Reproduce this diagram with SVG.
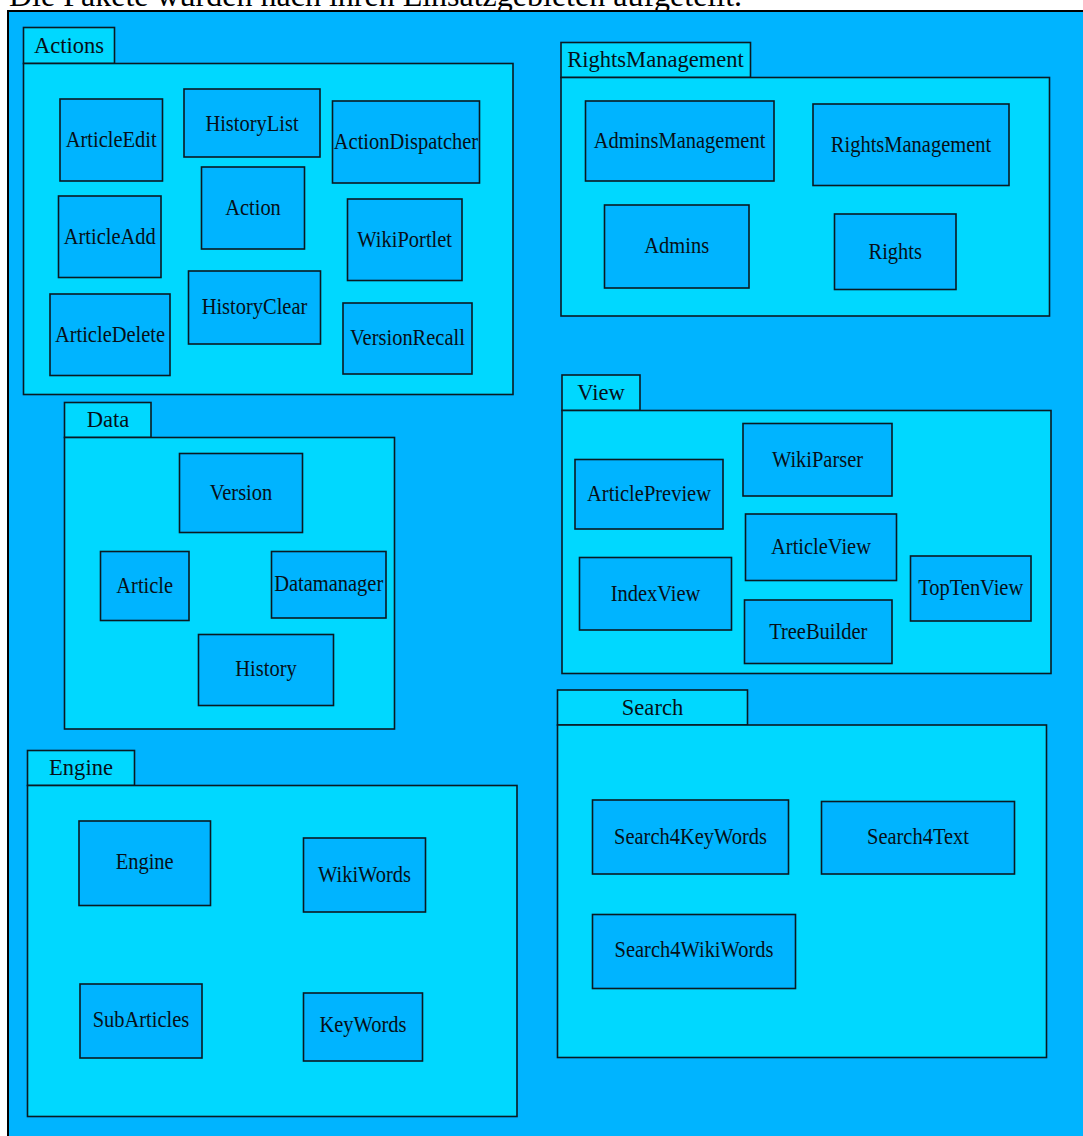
<svg xmlns="http://www.w3.org/2000/svg" width="1083" height="1136" viewBox="0 0 1083 1136">
  <style>
    .frame { fill: #00B4FF; stroke: #000; stroke-width: 2; }
    .pkg { fill: #00D8FF; stroke: #0a1a22; stroke-width: 1.6; }
    .cls { fill: #00B4FF; stroke: #0a1a22; stroke-width: 1.6; }
    .title { font-family: "Liberation Serif", "Times New Roman", serif; font-size: 32px; fill: #000; }
    .tab { font-family: "Liberation Serif", "Times New Roman", serif; font-size: 24px; fill: #061018; text-anchor: middle; }
    .lbl { font-family: "Liberation Serif", "Times New Roman", serif; font-size: 23px; fill: #061018; text-anchor: middle; }
  </style>

  <rect width="1083" height="1136" fill="#ffffff"/>
  <text class="title" x="9" y="6">Die Pakete wurden nach ihren Einsatzgebieten aufgeteilt.</text>

  <!-- drawing area -->
  <rect class="frame" x="8" y="11" width="1090" height="1140"/>

  <!-- package: Actions -->
  <g id="pkg-actions">
    <rect class="pkg" x="23.5" y="27.5" width="91" height="36"/>
    <rect class="pkg" x="23.5" y="63.5" width="489.5" height="331"/>
    <text class="tab" transform="translate(69,52.5) scale(0.94,1)">Actions</text>
  </g>
  <g id="ArticleEdit"><rect class="cls" x="60" y="99" width="102.5" height="82"/><text class="lbl" transform="translate(111.2,146.5) scale(0.89,1)">ArticleEdit</text></g>
  <g id="HistoryList"><rect class="cls" x="184" y="89" width="136" height="68"/><text class="lbl" transform="translate(252,130.5) scale(0.89,1)">HistoryList</text></g>
  <g id="ActionDispatcher"><rect class="cls" x="332.5" y="101" width="147" height="82"/><text class="lbl" transform="translate(406,148.5) scale(0.89,1)">ActionDispatcher</text></g>
  <g id="Action"><rect class="cls" x="201.5" y="167" width="103" height="82"/><text class="lbl" transform="translate(253,214.5) scale(0.89,1)">Action</text></g>
  <g id="ArticleAdd"><rect class="cls" x="58.5" y="196" width="102.5" height="81.5"/><text class="lbl" transform="translate(109.7,243.5) scale(0.89,1)">ArticleAdd</text></g>
  <g id="WikiPortlet"><rect class="cls" x="347.5" y="199" width="114.5" height="81.5"/><text class="lbl" transform="translate(404.7,246.5) scale(0.89,1)">WikiPortlet</text></g>
  <g id="HistoryClear"><rect class="cls" x="188.5" y="271" width="132" height="73"/><text class="lbl" transform="translate(254.5,314) scale(0.89,1)">HistoryClear</text></g>
  <g id="ArticleDelete"><rect class="cls" x="50" y="294" width="120" height="81.5"/><text class="lbl" transform="translate(110,341.5) scale(0.89,1)">ArticleDelete</text></g>
  <g id="VersionRecall"><rect class="cls" x="343" y="303" width="129" height="71"/><text class="lbl" transform="translate(407.5,345) scale(0.89,1)">VersionRecall</text></g>

  <!-- package: Data -->
  <g id="pkg-data">
    <rect class="pkg" x="64.5" y="402.5" width="86.5" height="35"/>
    <rect class="pkg" x="64.5" y="437.5" width="330" height="291.5"/>
    <text class="tab" transform="translate(108,427) scale(0.94,1)">Data</text>
  </g>
  <g id="Version"><rect class="cls" x="179.5" y="453.5" width="123" height="79"/><text class="lbl" transform="translate(241,499.5) scale(0.89,1)">Version</text></g>
  <g id="Article"><rect class="cls" x="100.5" y="551.5" width="88.5" height="69"/><text class="lbl" transform="translate(144.7,592.5) scale(0.89,1)">Article</text></g>
  <g id="Datamanager"><rect class="cls" x="271.5" y="551.5" width="114.5" height="66.5"/><text class="lbl" transform="translate(328.7,591) scale(0.89,1)">Datamanager</text></g>
  <g id="History"><rect class="cls" x="198.5" y="634.5" width="135" height="71"/><text class="lbl" transform="translate(266,676) scale(0.89,1)">History</text></g>

  <!-- package: Engine -->
  <g id="pkg-engine">
    <rect class="pkg" x="27.5" y="750.5" width="107" height="35"/>
    <rect class="pkg" x="27.5" y="785.5" width="489.5" height="331"/>
    <text class="tab" transform="translate(81,775) scale(0.94,1)">Engine</text>
  </g>
  <g id="Engine"><rect class="cls" x="79" y="821" width="131.5" height="84.5"/><text class="lbl" transform="translate(144.7,869) scale(0.89,1)">Engine</text></g>
  <g id="WikiWords"><rect class="cls" x="303.5" y="838" width="122" height="74"/><text class="lbl" transform="translate(364.5,881.5) scale(0.89,1)">WikiWords</text></g>
  <g id="SubArticles"><rect class="cls" x="80" y="984" width="122" height="74"/><text class="lbl" transform="translate(141,1027) scale(0.89,1)">SubArticles</text></g>
  <g id="KeyWords"><rect class="cls" x="303.5" y="993" width="119" height="68"/><text class="lbl" transform="translate(363,1032) scale(0.89,1)">KeyWords</text></g>

  <!-- package: RightsManagement -->
  <g id="pkg-rights">
    <rect class="pkg" x="561" y="42.5" width="189.5" height="35"/>
    <rect class="pkg" x="561" y="77.5" width="488.5" height="238.5"/>
    <text class="tab" transform="translate(655.5,67) scale(0.94,1)">RightsManagement</text>
  </g>
  <g id="AdminsManagement"><rect class="cls" x="585.5" y="101" width="188.5" height="80"/><text class="lbl" transform="translate(679.5,147.5) scale(0.89,1)">AdminsManagement</text></g>
  <g id="RightsManagement"><rect class="cls" x="813" y="104" width="196" height="81.5"/><text class="lbl" transform="translate(911,151.5) scale(0.89,1)">RightsManagement</text></g>
  <g id="Admins"><rect class="cls" x="604.5" y="205" width="144.5" height="83"/><text class="lbl" transform="translate(676.7,252.5) scale(0.89,1)">Admins</text></g>
  <g id="Rights"><rect class="cls" x="834.5" y="214" width="121.5" height="75.5"/><text class="lbl" transform="translate(895.2,258.5) scale(0.89,1)">Rights</text></g>

  <!-- package: View -->
  <g id="pkg-view">
    <rect class="pkg" x="562" y="375" width="78" height="35.5"/>
    <rect class="pkg" x="562" y="410.5" width="489" height="263"/>
    <text class="tab" transform="translate(601,400) scale(0.94,1)">View</text>
  </g>
  <g id="WikiParser"><rect class="cls" x="743" y="423.5" width="149" height="72.5"/><text class="lbl" transform="translate(817.5,466.5) scale(0.89,1)">WikiParser</text></g>
  <g id="ArticlePreview"><rect class="cls" x="575" y="459.5" width="148" height="69.5"/><text class="lbl" transform="translate(649,501) scale(0.89,1)">ArticlePreview</text></g>
  <g id="ArticleView"><rect class="cls" x="745.5" y="514" width="151" height="66.5"/><text class="lbl" transform="translate(821,553.5) scale(0.89,1)">ArticleView</text></g>
  <g id="IndexView"><rect class="cls" x="579.5" y="557.5" width="152" height="72.5"/><text class="lbl" transform="translate(655.5,600.5) scale(0.89,1)">IndexView</text></g>
  <g id="TopTenView"><rect class="cls" x="910.5" y="556" width="120.5" height="65"/><text class="lbl" transform="translate(970.7,595) scale(0.89,1)">TopTenView</text></g>
  <g id="TreeBuilder"><rect class="cls" x="744.5" y="600" width="147.5" height="63.5"/><text class="lbl" transform="translate(818.2,638.5) scale(0.89,1)">TreeBuilder</text></g>

  <!-- package: Search -->
  <g id="pkg-search">
    <rect class="pkg" x="557.5" y="690" width="190" height="35"/>
    <rect class="pkg" x="557.5" y="725" width="489" height="332.5"/>
    <text class="tab" transform="translate(652.5,714.5) scale(0.94,1)">Search</text>
  </g>
  <g id="Search4KeyWords"><rect class="cls" x="592.5" y="800" width="196" height="74"/><text class="lbl" transform="translate(690.5,844) scale(0.89,1)">Search4KeyWords</text></g>
  <g id="Search4Text"><rect class="cls" x="821.5" y="801.5" width="193" height="72.5"/><text class="lbl" transform="translate(918,844) scale(0.89,1)">Search4Text</text></g>
  <g id="Search4WikiWords"><rect class="cls" x="592.5" y="914.5" width="203" height="74"/><text class="lbl" transform="translate(694,957) scale(0.89,1)">Search4WikiWords</text></g>

  <!-- no dependencies are drawn between the packages -->
  <g id="connectors"/>
</svg>
